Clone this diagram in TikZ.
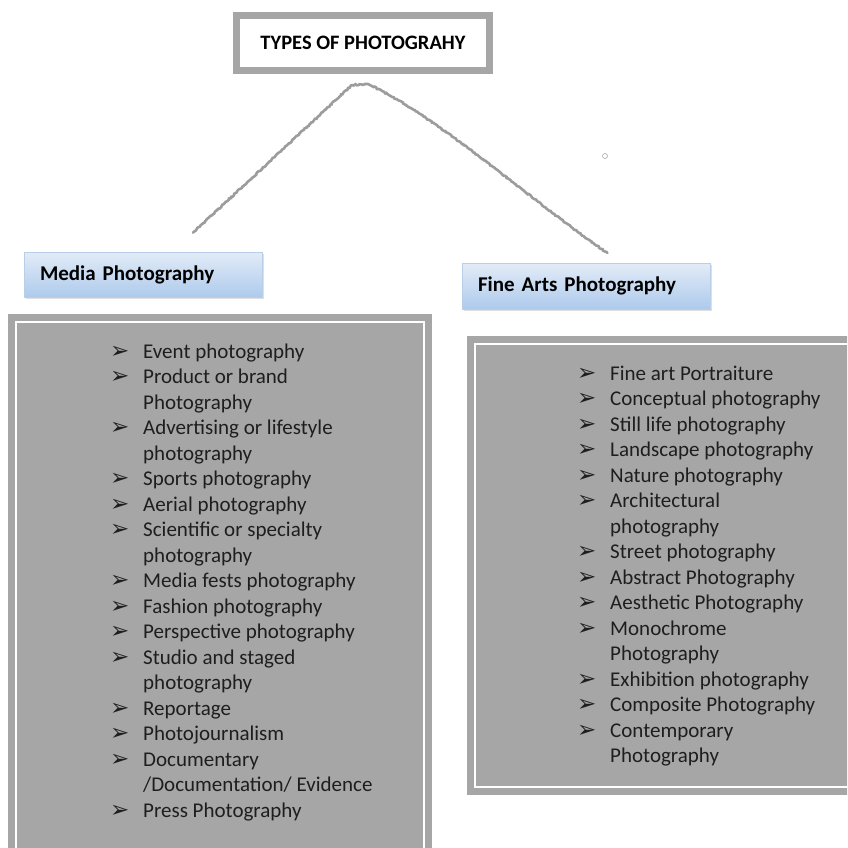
\documentclass[tikz,border=0pt]{standalone}
\usepackage{fontspec}
\setmainfont{Carlito}
\newfontfamily\dingfont{DejaVu Sans}
\usetikzlibrary{shadows,decorations.pathmorphing}
\definecolor{framegray}{HTML}{A6A6A6}
\definecolor{linegray}{HTML}{9C9C9C}
\definecolor{headtop}{HTML}{E2ECF7}
\definecolor{headbot}{HTML}{AECAEC}
\definecolor{headedge}{HTML}{B9CFE8}
\definecolor{itemtext}{HTML}{1E1E1E}
\newcommand{\bul}{\makebox[33pt][l]{\dingfont\fontsize{23}{23}\selectfont ➢}}
\newcommand{\ind}{\hspace*{33pt}}
\newcommand{\docline}{/Documentation/ Evidence}
\tikzset{
  framebox/.style = {draw=framegray, line width=7pt, fill=white, inner sep=0pt},
  headbox/.style = {draw=headedge, line width=0.6pt, top color=headtop, bottom color=headbot,
    font=\fontsize{21}{25}\selectfont\bfseries, inner xsep=16pt, inner ysep=0pt, align=left,
    drop shadow={opacity=0.25, shadow xshift=1.5pt, shadow yshift=-2pt}},
  listbox/.style = {fill=framegray, inner sep=0pt},
  listitem/.style = {anchor=base west, inner sep=0pt, text=itemtext, font=\fontsize{21}{25}\selectfont},
  sketch/.style = {draw=linegray, line width=2.6pt, line cap=round, decorate,
    decoration={random steps, segment length=1.5pt, amplitude=0.6pt}}
}
\begin{document}
\begin{tikzpicture}[x=1pt, y=-1pt]
\pgfmathsetseed{7}
\useasboundingbox (0,0) rectangle (847,848);
\clip (0,0) rectangle (847,848);
% title
\node[framebox, minimum width=253pt, minimum height=55pt, font=\fontsize{20.5}{24}\selectfont\bfseries] (title) at (363,43) {TYPES OF PHOTOGRAHY};
\draw[framegray, line width=1.6pt] ([shift={(6.5pt,-6.5pt)}]title.north west) rectangle ([shift={(-6.5pt,6.5pt)}]title.south east);
% headers
\node[headbox, text width=206pt, minimum height=45pt] (media) at (143,274.5) {Media Photography};
\node[headbox, text width=216pt, minimum height=46pt] (fine) at (586,286) {Fine Arts Photography};
% connectors
\coordinate (apex) at ([shift={(-11pt,-11pt)}]title.south);
\coordinate (lend) at ([shift={(50pt,19pt)}]media.north);
\coordinate (rend) at ([shift={(21pt,10pt)}]fine.north);
\draw[sketch] (lend) -- (apex);
\draw[sketch] (apex) -- ++(16pt,1pt) .. controls (440,118) and (530,200) .. (rend);
\draw[linegray, line width=0.5pt] (605,156) circle (2.5pt);
% lists
\node[listbox, anchor=north west, minimum width=424pt, minimum height=550pt] (mediabox) at (8,314) {};
\draw[white, line width=2pt] ([shift={(8pt,-8pt)}]mediabox.north west) rectangle ([shift={(-8pt,8pt)}]mediabox.south east);
\node[listbox, anchor=north west, minimum width=400pt, minimum height=459pt] (finebox) at (467,336) {};
\draw[white, line width=2pt] ([shift={(8pt,-8pt)}]finebox.north west) rectangle ([shift={(-8pt,8pt)}]finebox.south east);
\foreach \k/\txt in {0/\bul Event photography, 1/\bul Product or brand, 2/\ind Photography,
  3/\bul Advertising or lifestyle, 4/\ind photography, 5/\bul Sports photography,
  6/\bul Aerial photography, 7/\bul Scientific or specialty, 8/\ind photography,
  9/\bul Media fests photography, 10/\bul Fashion photography, 11/\bul Perspective photography,
  12/\bul Studio and staged, 13/\ind photography, 14/\bul Reportage, 15/\bul Photojournalism,
  16/\bul Documentary, 17/\ind\docline, 18/\bul Press Photography}
  \node[listitem] (med-\k) at (110,358+25.5*\k) {\txt};
\foreach \k/\txt in {0/\bul Fine art Portraiture, 1/\bul Conceptual photography,
  2/\bul Still life photography, 3/\bul Landscape photography, 4/\bul Nature photography,
  5/\bul Architectural, 6/\ind photography, 7/\bul Street photography,
  8/\bul Abstract Photography, 9/\bul Aesthetic Photography, 10/\bul Monochrome,
  11/\ind Photography, 12/\bul Exhibition photography, 13/\bul Composite Photography,
  14/\bul Contemporary, 15/\ind Photography}
  \node[listitem] (art-\k) at (577,380+25.5*\k) {\txt};
\end{tikzpicture}
\end{document}
